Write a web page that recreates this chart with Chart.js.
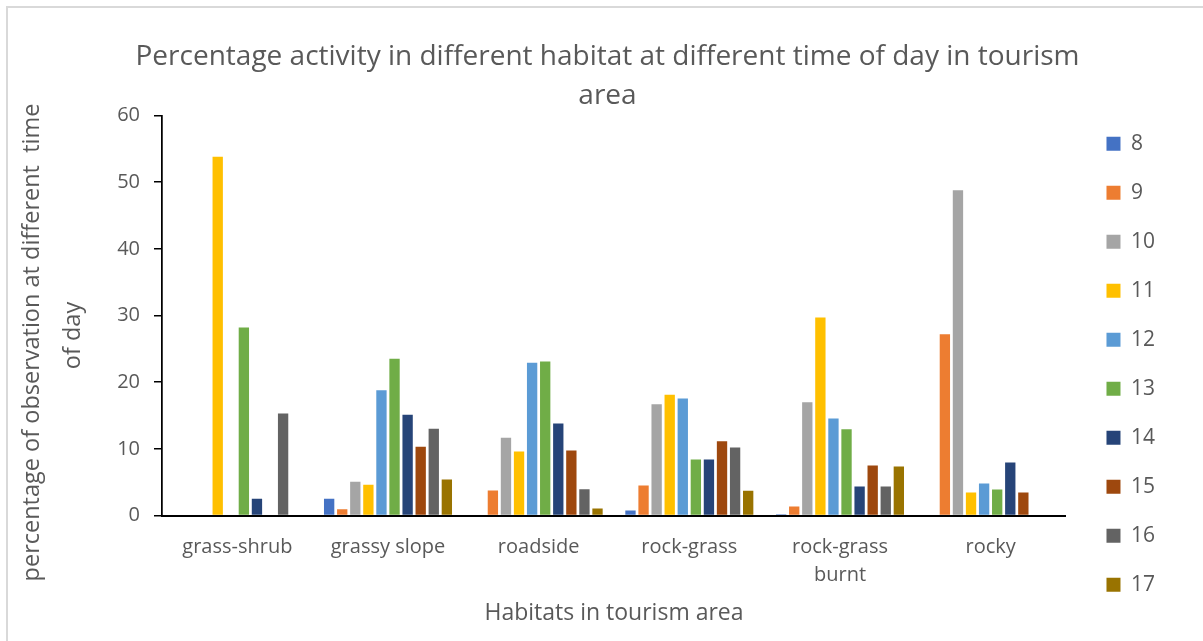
<!DOCTYPE html>
<html>
<head>
<meta charset="utf-8">
<script src="https://cdn.jsdelivr.net/npm/chart.js@4.4.1/dist/chart.umd.min.js"></script>
<style>
  html, body { margin: 0; padding: 0; background: #ffffff; }
  #wrap { position: relative; width: 1203px; height: 641px; overflow: hidden; }
  #frame { position: absolute; left: 6px; top: 6px; width: 1400px; height: 800px;
           border-left: 2px solid #d9d9d9; border-top: 2px solid #d9d9d9; pointer-events: none; }
  canvas { position: absolute; left: 0; top: 0; }
</style>
</head>
<body>
<div id="wrap">
  <canvas id="chart" width="1203" height="641"></canvas>
  <div id="frame"></div>
</div>
<script>
// Habitats (x categories) and observation hours (series)
const habitats = ['grass-shrub', 'grassy slope', 'roadside', 'rock-grass', ['rock-grass', 'burnt'], 'rocky'];
const hours = ['8', '9', '10', '11', '12', '13', '14', '15', '16', '17'];

// Percentage of observations per habitat, one array per hour
const hour8  = [0,    2.5,  0,     0.75,  0.2,   0];
const hour9  = [0,    0.95, 3.75,  4.5,   1.35,  27.2];
const hour10 = [0,    5.05, 11.65, 16.7,  17.0,  48.8];
const hour11 = [53.8, 4.6,  9.6,   18.1,  29.7,  3.45];
const hour12 = [0,    18.8, 22.9,  17.55, 14.55, 4.8];
const hour13 = [28.2, 23.5, 23.1,  8.4,   12.95, 3.9];
const hour14 = [2.5,  15.1, 13.8,  8.4,   4.35,  7.95];
const hour15 = [0,    10.3, 9.75,  11.15, 7.5,   3.45];
const hour16 = [15.3, 13.0, 3.95,  10.2,  4.35,  0];
const hour17 = [0,    5.4,  1.05,  3.7,   7.35,  0];

const yTicks = { min: 0, max: 60, step: 10 };

const titleLines = ['Percentage activity in different habitat at different time of day in tourism', 'area'];
const xTitle = 'Habitats in tourism area';
const yTitleLines = ['percentage of observation at different  time', 'of day'];

const seriesValues = [hour8, hour9, hour10, hour11, hour12, hour13, hour14, hour15, hour16, hour17];
const seriesColors = ['#4472C4', '#ED7D31', '#A5A5A5', '#FFC000', '#5B9BD5',
                      '#70AD47', '#264478', '#9E480E', '#636363', '#997300'];

const textColor = '#595959';
Chart.defaults.font.family = '"Open Sans", "Noto Sans", sans-serif';
Chart.defaults.color = textColor;

// Rotated two-line title for the value axis
const yAxisTitle = {
  id: 'yAxisTitle',
  afterDraw(chart) {
    const { ctx, chartArea } = chart;
    const midY = (chartArea.top + chartArea.bottom) / 2;
    ctx.save();
    ctx.fillStyle = textColor;
    ctx.font = '23.5px "Open Sans", "Noto Sans", sans-serif';
    ctx.textAlign = 'center';
    ctx.textBaseline = 'alphabetic';
    const spots = [
      { x: chartArea.left - 123, y: midY + 27 },
      { x: chartArea.left - 82,  y: midY + 20 }
    ];
    yTitleLines.forEach((line, i) => {
      ctx.save();
      ctx.translate(spots[i].x, spots[i].y);
      ctx.rotate(-Math.PI / 2);
      ctx.fillText(line, 0, 0);
      ctx.restore();
    });
    ctx.restore();
  }
};

new Chart(document.getElementById('chart'), {
  type: 'bar',
  data: {
    labels: habitats,
    datasets: hours.map((h, i) => ({
      label: h,
      data: seriesValues[i],
      backgroundColor: seriesColors[i],
      borderWidth: 0,
      categoryPercentage: 0.868,
      barPercentage: 0.79
    }))
  },
  options: {
    responsive: false,
    animation: false,
    devicePixelRatio: 1,
    layout: { padding: { left: 50, right: 38, top: 0, bottom: 12 } },
    plugins: {
      tooltip: { enabled: false },
      title: {
        display: true,
        text: titleLines,
        color: textColor,
        font: { size: 28, weight: 'normal', lineHeight: 39 / 28 },
        padding: { top: 37.5, bottom: 0 }
      },
      legend: {
        display: true,
        position: 'right',
        align: 'center',
        title: { display: true, text: '', padding: { top: 85, bottom: 0 }, font: { size: 12, lineHeight: 1.2 } },
        labels: {
          boxWidth: 14,
          boxHeight: 14,
          padding: 28,
          color: textColor,
          font: { size: 21 }
        }
      }
    },
    scales: {
      x: {
        grid: { display: false, drawTicks: false },
        border: { display: true, color: '#000000', width: 2 },
        ticks: { color: textColor, font: { size: 20, lineHeight: 1.4 }, padding: 17.5, maxRotation: 0, autoSkip: false },
        title: { display: true, text: xTitle, color: textColor, font: { size: 23, lineHeight: 1.2 }, padding: { top: 0, bottom: 2 } },
        afterFit(scale) { scale.height = 113.5; }
      },
      y: {
        min: yTicks.min,
        max: yTicks.max,
        ticks: { stepSize: yTicks.step, color: textColor, font: { size: 20 }, padding: 14 },
        grid: { display: true, drawOnChartArea: false, drawTicks: true, tickLength: 8, color: '#000000', lineWidth: 1.5 },
        border: { display: true, color: '#000000', width: 1.75 },
        afterFit(scale) { scale.width = 112; }
      },
      gapRight: {
        type: 'linear',
        position: 'right',
        display: true,
        grid: { display: false, drawTicks: false },
        border: { display: false },
        ticks: { display: false },
        afterFit(scale) { scale.width = 12.5; }
      }
    }
  },
  plugins: [yAxisTitle]
});
</script>
</body>
</html>
